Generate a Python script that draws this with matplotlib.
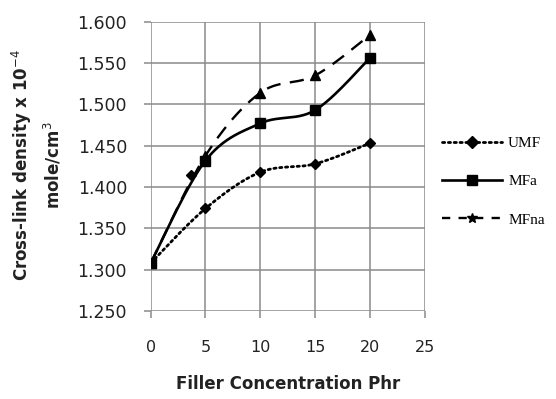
import numpy as np
import matplotlib
matplotlib.use("Agg")
from matplotlib import pyplot as plt

# Data
conc = [0, 5, 10, 15, 20]
umf = [1.308, 1.374, 1.418, 1.428, 1.453]
mfa = [1.308, 1.432, 1.477, 1.493, 1.556]
mfna = [1.308, 1.438, 1.514, 1.535, 1.584]
# lone diamond sitting on the MFa curve
extra_x = [3.7]
extra_y = [1.414]

xticks = [0, 5, 10, 15, 20, 25]
yticks = [1.250, 1.300, 1.350, 1.400, 1.450, 1.500, 1.550, 1.600]


def smooth(x, y, n=40):
    # Excel-like smoothed line (Catmull-Rom as cubic bezier)
    p = np.column_stack([x, y]).astype(float)
    p = np.vstack([p[0], p, p[-1]])
    out = []
    for i in range(1, len(p) - 2):
        p0, p1, p2, p3 = p[i - 1], p[i], p[i + 1], p[i + 2]
        c1 = p1 + (p2 - p0) / 6.0
        c2 = p2 - (p3 - p1) / 6.0
        t = np.linspace(0, 1, n)[:, None]
        seg = ((1 - t) ** 3) * p1 + 3 * ((1 - t) ** 2) * t * c1 + 3 * (1 - t) * t ** 2 * c2 + t ** 3 * p2
        out.append(seg if i == 1 else seg[1:])
    out = np.vstack(out)
    return out[:, 0], out[:, 1]


fig = plt.figure(figsize=(5.56, 3.99), dpi=100)
ax = fig.add_axes([0.271, 0.2206, 0.493, 0.725])

gray = "#8a8a8a"
ax.set_xlim(0, 25)
ax.set_ylim(1.250, 1.600)
ax.set_xticks(xticks)
ax.set_yticks(yticks)
ax.set_xticklabels([str(v) for v in xticks], fontfamily="DejaVu Sans", fontsize=11.5, color="#222222")
ax.set_yticklabels(["%.3f" % v for v in yticks], fontfamily="DejaVu Sans", fontsize=12.5, color="#222222")
ax.grid(True, color=gray, lw=1.1)
ax.set_axisbelow(True)
for s in ax.spines.values():
    s.set_visible(False)
ax.tick_params(length=5, width=1.1, color=gray)
ax.tick_params(axis="y", pad=12)
ax.tick_params(axis="x", pad=16)

sx, sy = smooth(conc, mfna)
ax.plot(sx, sy, color="black", lw=1.7, ls=(0, (6, 4)))
ax.plot(conc, mfna, ls="none", marker="^", ms=7, color="black")
sx, sy = smooth(conc, umf)
ax.plot(sx, sy, color="black", lw=2.0, ls=(0, (0.8, 1.3)), dash_capstyle="round")
ax.plot(conc, umf, ls="none", marker="D", ms=5.5, color="black")
ax.plot(extra_x, extra_y, ls="none", marker="D", ms=5.5, color="black")
sx, sy = smooth(conc, mfa)
ax.plot(sx, sy, color="black", lw=1.9)
ax.plot(conc, mfa, ls="none", marker="s", ms=7.5, color="black")

# legend handles
h1, = ax.plot([], [], color="black", lw=2.0, ls=(0, (0.8, 1.3)), marker="D", ms=6, dash_capstyle="round")
h2, = ax.plot([], [], color="black", lw=1.9, marker="s", ms=6.5)
h3, = ax.plot([], [], color="black", lw=1.7, ls=(0, (3.5, 3.5)), marker="*", ms=7)
ax.legend([h1, h2, h3], ["UMF", "MFa", "MFna"], loc="center left",
          bbox_to_anchor=(0.771, 0.545), bbox_transform=fig.transFigure,
          frameon=False, handlelength=3.9, labelspacing=1.6, handletextpad=0.4,
          prop={"family": "Liberation Serif", "size": 11})

ax.set_xlabel("Filler Concentration Phr", fontfamily="DejaVu Sans", fontweight="bold",
              fontsize=12, labelpad=14, color="#222222")
fig.text(0.039, 0.586, "Cross-link density x 10$^{-4}$", rotation=90, ha="center",
         va="center", fontfamily="DejaVu Sans", fontweight="bold", fontsize=12, color="#222222")
fig.text(0.096, 0.586, "mole/cm$^{3}$", rotation=90, ha="center", va="center",
         fontfamily="DejaVu Sans", fontweight="bold", fontsize=12, color="#222222")

fig.savefig("out.png", dpi=100)
